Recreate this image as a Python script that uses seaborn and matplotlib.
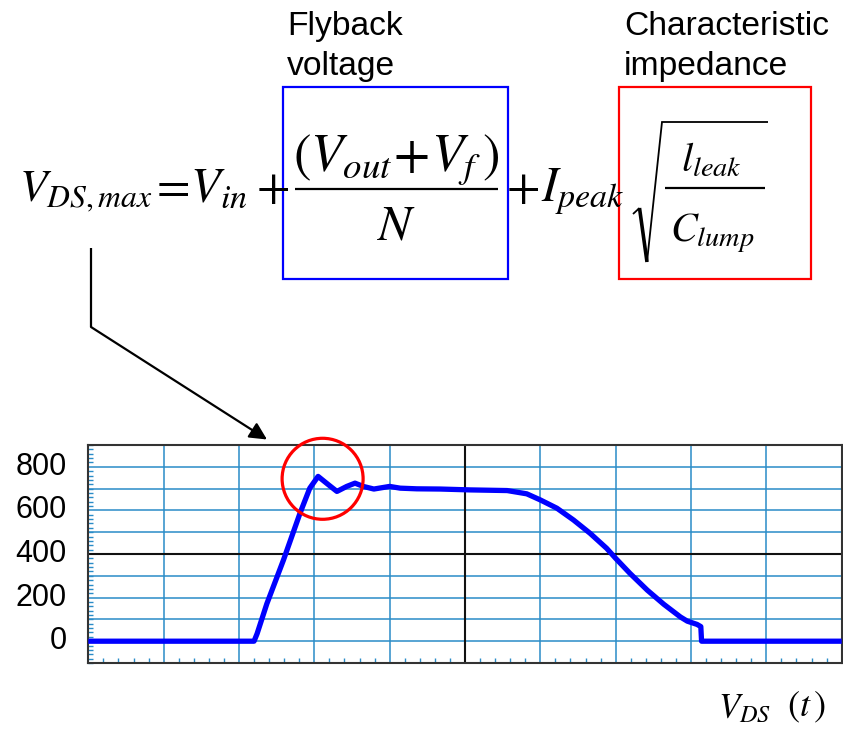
import matplotlib
matplotlib.use("Agg")
import matplotlib.pyplot as plt
import seaborn as sns
import pandas as pd
from matplotlib.ticker import MultipleLocator, NullFormatter
from matplotlib.patches import Ellipse, Rectangle, FancyArrowPatch
from matplotlib.lines import Line2D
import matplotlib.transforms as mtransforms

# ---------------- data ----------------
t_div = [0.00, 2.20, 2.24, 2.37, 2.59, 2.81, 2.94, 3.05, 3.19, 3.30, 3.43, 3.54,
         3.65, 3.79, 4.00, 4.14, 4.36, 4.67, 5.07, 5.56, 5.82, 6.00, 6.22, 6.44,
         6.66, 6.88, 7.00, 7.19, 7.42, 7.64, 7.86, 7.95, 8.08, 8.13, 8.14, 8.20,
         9.00, 10.00]
v_ds = [0, 0, 34, 172, 372, 587, 702, 756, 717, 687, 710, 725,
        710, 698, 710, 702, 699, 698, 694, 691, 676, 648, 610, 556,
        495, 426, 380, 311, 234, 169, 111, 92, 77, 67, 0, 0,
        0, 0]
y_tick_values = [0, 200, 400, 600, 800]
y_tick_labels = ["0", "200", "400", "600", "800"]
label_flyback = ["Flyback", "voltage"]
label_char = ["Characteristic", "impedance"]

df = pd.DataFrame({"t": t_div, "v": v_ds})

# ---------------- figure ----------------
sns.set_style("white")
plt.rcParams["font.family"] = ["Liberation Sans", "DejaVu Sans"]
plt.rcParams["mathtext.fontset"] = "stix"
plt.rcParams["text.color"] = "black"
plt.rcParams["ytick.color"] = "black"
plt.rcParams["xtick.color"] = "black"

W, H = 843, 739
fig = plt.figure(figsize=(W / 100, H / 100), dpi=100)


def P(x, y):
    return (x / W, 1 - y / H)


def T(x, y, s, size, ha="left"):
    return fig.text(*P(x, y), s, fontsize=size, ha=ha, va="baseline")


def L(xs, ys, lw):
    fig.add_artist(Line2D([v / W for v in xs], [1 - v / H for v in ys],
                          color="black", lw=lw, solid_joinstyle="miter",
                          solid_capstyle="butt"))


ax = fig.add_axes([88.3 / W, 1 - 663 / H, (841.7 - 88.3) / W, (663 - 445) / H])

grid_c = "#2a8cc8"
ax.set_xlim(0, 10)
ax.set_ylim(-100, 900)

sns.lineplot(data=df, x="t", y="v", ax=ax, color="#0000ff", lw=3.8,
             zorder=3, estimator=None, sort=False, solid_joinstyle="round",
             solid_capstyle="butt")
ax.set_xlabel("")
ax.set_ylabel("")

ax.xaxis.set_major_locator(MultipleLocator(1))
ax.xaxis.set_minor_locator(MultipleLocator(0.2))
ax.xaxis.set_major_formatter(NullFormatter())
ax.set_yticks(y_tick_values, labels=y_tick_labels)
ax.yaxis.set_minor_locator(MultipleLocator(20))

ax.grid(True, axis="both", which="major", color=grid_c, lw=1.1, zorder=0)
for yv in [100, 300, 500, 700]:
    ax.axhline(yv, color=grid_c, lw=1.1, zorder=0)
ax.axhline(400, color="#111111", lw=1.5, zorder=1)
ax.axvline(5, color="#111111", lw=1.5, zorder=1)

ax.tick_params(axis="both", which="major", length=0, labelsize=22,
               labelcolor="black", pad=15.5, bottom=True, left=True)
ax.tick_params(axis="both", which="minor", direction="in", length=3.5,
               width=1, color=grid_c, bottom=True, left=True)

offset = mtransforms.ScaledTranslation(0, 0.035, fig.dpi_scale_trans)
for lab in ax.get_yticklabels():
    lab.set_transform(lab.get_transform() + offset)

for s in ax.spines.values():
    s.set_color("#333333")
    s.set_linewidth(1.5)
    s.set_visible(True)

# red circle around the overshoot
circ = Ellipse((3.11, 745), width=2 * 40.5 / 75.34, height=2 * 40.5 / 21.8 * 100,
               fill=False, edgecolor="#ff0000", lw=2.3, zorder=5, clip_on=False)
ax.add_patch(circ)

# ---------------- equation ----------------
fs = 35
bl = 201.7
T(19, bl, r"$V_{DS,max}$", fs * 0.93)
T(149, bl, r"$=\!V_{in}$", fs)
T(256, bl, r"$+$", fs)

# fraction (V_out + V_f) / N
T(396, 171, r"$(V_{out}\!+\!V_f\,)$", 38, ha="center")
L([295, 498], [189.3, 189.3], 1.6)
T(396, 240, r"$N$", 36, ha="center")

T(506, bl, r"$+$", fs)
T(541, bl, r"$I_{peak}$", fs)

# square root of l_leak / C_lump
L([633, 639.5], [214, 208], 1.3)
L([639.5, 647], [208, 262], 2.6)
L([647, 662, 768], [262, 122, 122], 1.3)
T(711, 171.7, r"$l_{leak}$", 29, ha="center")
L([665, 765], [188.3, 188.3], 1.6)
T(712, 241.7, r"$C_{lump}$", 29, ha="center")

# boxes
fig.add_artist(Rectangle(P(283, 279), (508 - 283) / W, (279 - 87) / H,
                         fill=False, edgecolor="#0000ff", lw=1.6))
fig.add_artist(Rectangle(P(619, 279), (811 - 619) / W, (279 - 87) / H,
                         fill=False, edgecolor="#ff0000", lw=1.6))

# labels above boxes
lfs = 24.2
T(287, 35, label_flyback[0], lfs)
T(287, 75, label_flyback[1], lfs)
T(624, 35, label_char[0], lfs)
T(624, 75, label_char[1], lfs)

# arrow from equation to plot
L([91, 91], [248, 327], 1.6)
fig.add_artist(FancyArrowPatch(P(91, 327), P(267, 439.5),
                               transform=fig.transFigure, arrowstyle="-|>",
                               mutation_scale=26, color="black", lw=1.6,
                               shrinkA=0, shrinkB=0))

# x label
T(718, 718, r"$V_{DS}$", 25)
T(787, 716, r"$(t\,)$", 26)

fig.savefig("out.png", dpi=100)
